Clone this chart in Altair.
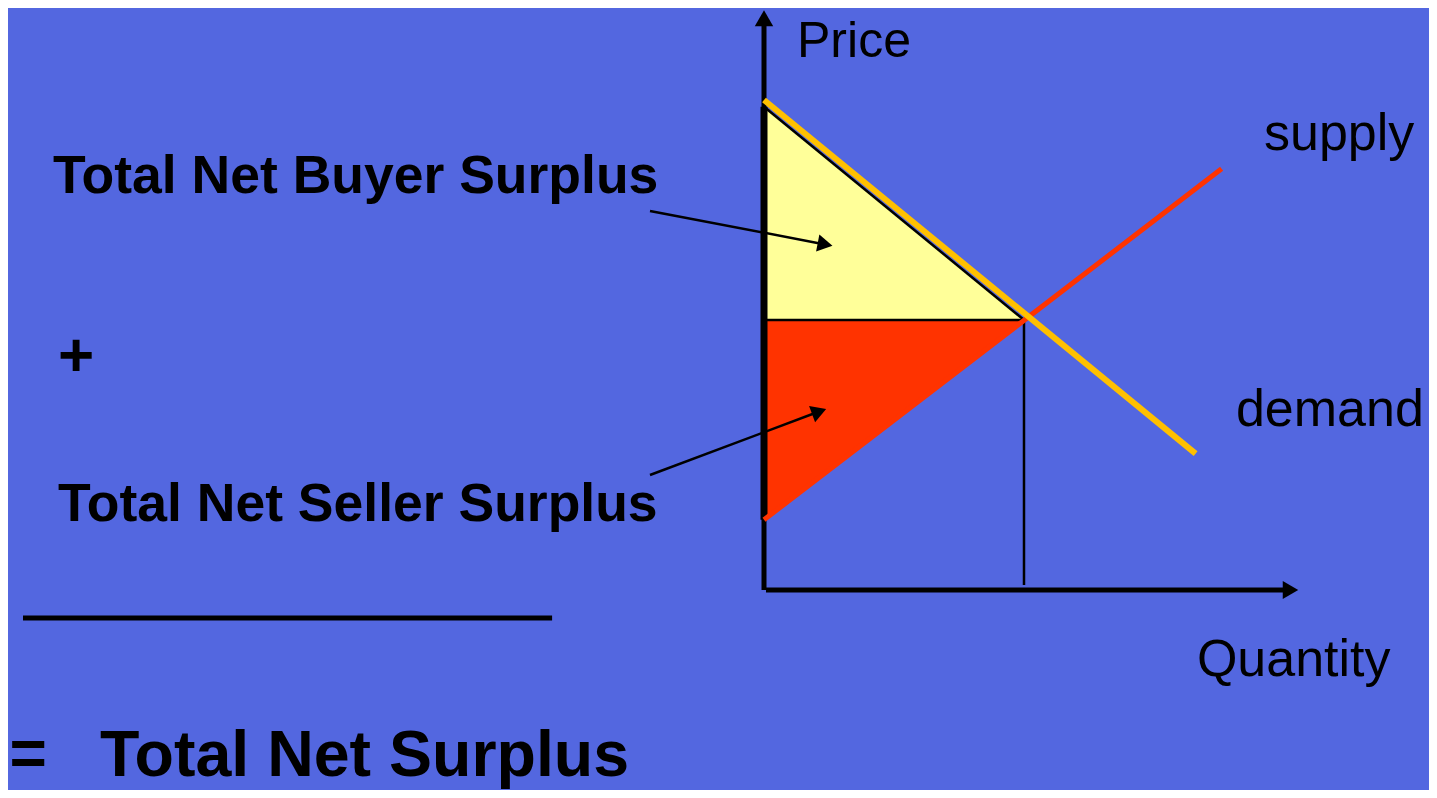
import altair as alt
import pandas as pd

# ---- economic data (quantity, price) ----
demand_q = [0.0, 16.6]
demand_p = [18.15, 5.05]
supply_q = [0.0, 17.6]
supply_p = [2.6, 15.6]
eq_q = 10.0
eq_p = 10.0
buyer_choke_p = 17.9      # top of buyer-surplus triangle
seller_min_p = 2.6        # bottom of seller-surplus triangle

# ---- annotation labels ----
plain_labels = ["Price", "supply", "demand", "Quantity"]
plain_q = [1.27, 19.23, 18.15, 16.65]
plain_p = [19.75, 16.30, 6.07, -3.19]
plain_size = [50, 52, 52, 52]

bold_labels = ["Total Net Buyer Surplus", "+", "Total Net Seller Surplus", "=", "Total Net Surplus"]
bold_q = [-27.35, -27.15, -27.15, -29.02, -25.54]
bold_p = [14.69, 7.93, 2.54, -6.85, -6.89]
bold_size = [53.5, 62, 53.5, 64, 64.5]

# pointer arrows: start, head centre, head angle
arrow_q1 = [-4.385, -4.385]
arrow_p1 = [14.04, 4.26]
arrow_q2 = [2.35, 2.12]
arrow_p2 = [12.80, 6.61]
arrow_angle = [100.8, 69.75]

FONT = "Liberation Sans"
BG = "#5367E0"

xs = alt.Scale(domain=[-29.077, 25.577], nice=False, zero=False)
ys = alt.Scale(domain=[-7.407, 21.556], nice=False, zero=False)

def X(f="q"):
    return alt.X(f"{f}:Q", scale=xs, axis=None)

def Y(f="p"):
    return alt.Y(f"{f}:Q", scale=ys, axis=None)

# surplus triangles
buyer_df = pd.DataFrame({"q": [0.0, eq_q], "p": [buyer_choke_p, eq_p], "p2": [eq_p, eq_p]})
seller_df = pd.DataFrame({"q": [0.0, eq_q], "p": [eq_p, eq_p], "p2": [seller_min_p, eq_p]})

buyer_area = alt.Chart(buyer_df).mark_area(color="#FFFF99", opacity=1).encode(
    x=X(), y=Y(), y2="p2:Q")
seller_area = alt.Chart(seller_df).mark_area(color="#FF3300", opacity=1).encode(
    x=X(), y=Y(), y2="p2:Q")

# black helper lines: hypotenuse, equilibrium price line, equilibrium quantity drop
black_df = pd.DataFrame({
    "q": [0.0, 0.0, eq_q],
    "p": [buyer_choke_p, eq_p, eq_p],
    "q2": [eq_q, eq_q, eq_q],
    "p2": [eq_p, eq_p, 0.185],
})
black_lines = alt.Chart(black_df).mark_rule(color="black", strokeWidth=2.5).encode(
    x=X(), y=Y(), x2="q2:Q", y2="p2:Q")

# axes
axes_df = pd.DataFrame({
    "q": [0.0, 0.077],
    "p": [0.0, 0.0],
    "q2": [0.0, 20.1],
    "p2": [20.9, 0.0],
})
axes = alt.Chart(axes_df).mark_rule(color="black", strokeWidth=5).encode(
    x=X(), y=Y(), x2="q2:Q", y2="p2:Q")
thick_df = pd.DataFrame({"q": [0.0], "p": [seller_min_p], "q2": [0.0], "p2": [buyer_choke_p]})
thick = alt.Chart(thick_df).mark_rule(color="black", strokeWidth=7).encode(
    x=X(), y=Y(), x2="q2:Q", y2="p2:Q")

axis_heads_df = pd.DataFrame({"q": [0.0, 20.25], "p": [21.18, 0.0], "angle": [0, 90], "size": [340, 320]})
axis_heads = alt.Chart(axis_heads_df).mark_point(
    shape="triangle-up", filled=True, color="black", opacity=1, strokeWidth=0
).encode(x=X(), y=Y(), angle=alt.Angle("angle:Q", scale=None), size=alt.Size("size:Q", scale=None))

# supply and demand curves
supply_df = pd.DataFrame({"q": supply_q, "p": supply_p})
demand_df = pd.DataFrame({"q": demand_q, "p": demand_p})
supply_line = alt.Chart(supply_df).mark_line(color="#FF3300", strokeWidth=5).encode(x=X(), y=Y())
demand_line = alt.Chart(demand_df).mark_line(color="#FFC000", strokeWidth=6).encode(x=X(), y=Y())

# pointer arrows
arrow_df = pd.DataFrame({"q": arrow_q1, "p": arrow_p1, "q2": arrow_q2, "p2": arrow_p2, "angle": arrow_angle})
arrow_lines = alt.Chart(arrow_df).mark_rule(color="black", strokeWidth=2.5).encode(
    x=X(), y=Y(), x2="q2:Q", y2="p2:Q")
arrow_heads = alt.Chart(arrow_df).mark_point(
    shape="triangle-up", filled=True, color="black", opacity=1, size=300, strokeWidth=0
).encode(x=X("q2"), y=Y("p2"), angle=alt.Angle("angle:Q", scale=None))

# separator line
sep_df = pd.DataFrame({"q": [-28.5], "p": [-1.037], "q2": [-8.15], "p2": [-1.037]})
separator = alt.Chart(sep_df).mark_rule(color="black", strokeWidth=5).encode(
    x=X(), y=Y(), x2="q2:Q", y2="p2:Q")

# labels
plain_df = pd.DataFrame({"t": plain_labels, "q": plain_q, "p": plain_p, "s": plain_size})
bold_df = pd.DataFrame({"t": bold_labels, "q": bold_q, "p": bold_p, "s": bold_size})
plain_text = alt.Chart(plain_df).mark_text(
    align="left", baseline="alphabetic", font=FONT, color="black"
).encode(x=X(), y=Y(), text="t:N", size=alt.Size("s:Q", scale=None))
bold_text = alt.Chart(bold_df).mark_text(
    align="left", baseline="alphabetic", font=FONT, fontWeight="bold", color="black"
).encode(x=X(), y=Y(), text="t:N", size=alt.Size("s:Q", scale=None))

chart = alt.layer(
    buyer_area, seller_area, black_lines, axes, thick, axis_heads,
    supply_line, demand_line, arrow_lines, arrow_heads, separator,
    plain_text, bold_text,
).properties(
    width=1421, height=782, padding=0, background=BG,
    autosize=alt.AutoSizeParams(type="none"),
).configure_view(stroke=None)

chart.save("out.html", embed_options={"renderer": "svg", "actions": False})
